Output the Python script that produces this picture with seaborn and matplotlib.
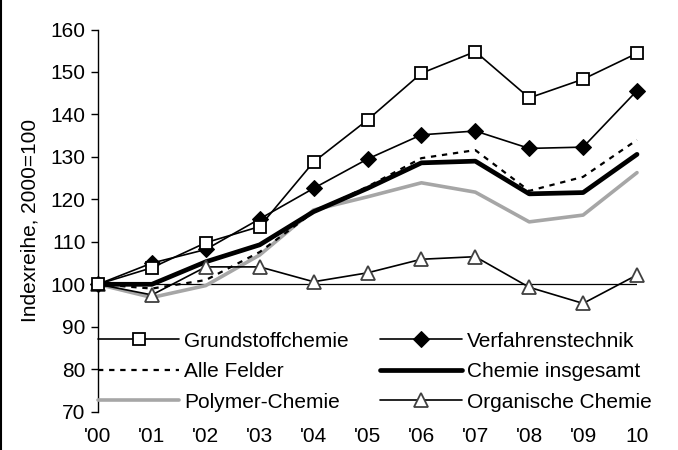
import matplotlib
matplotlib.use("Agg")
import matplotlib.pyplot as plt
import seaborn as sns
import pandas as pd
from matplotlib.lines import Line2D

years = list(range(11))
year_labels = ["'00", "'01", "'02", "'03", "'04", "'05", "'06", "'07", "'08", "'09", "10"]

grundstoff = [100, 103.9, 109.8, 113.6, 128.8, 138.7, 149.7, 154.8, 143.9, 148.3, 154.4]
verfahren = [100, 105.0, 108.2, 115.4, 122.6, 129.5, 135.2, 136.1, 132.0, 132.3, 145.6]
alle_felder = [100, 99.0, 101.0, 107.6, 117.0, 123.0, 129.7, 131.6, 122.0, 125.3, 134.0]
chemie_ges = [100, 100.0, 105.3, 109.3, 117.1, 122.6, 128.6, 129.0, 121.3, 121.6, 130.6]
polymer = [100, 96.9, 99.7, 106.9, 117.5, 120.6, 123.9, 121.7, 114.7, 116.3, 126.3]
organisch = [100, 97.5, 104.1, 104.1, 100.6, 102.7, 105.9, 106.5, 99.3, 95.5, 102.2]

y_ticks = [70, 80, 90, 100, 110, 120, 130, 140, 150, 160]

sns.set_theme(style="white")
plt.rcParams["font.family"] = ["Liberation Sans", "DejaVu Sans"]
plt.rcParams["text.color"] = "black"

fig = plt.figure(figsize=(6.78, 4.5), dpi=100)
ax = fig.add_axes([98 / 678, 1 - 411.7 / 450, (637 - 98) / 678, (411.7 - 29.5) / 450])

# reference line at 100
ax.axhline(100, color="black", linewidth=0.9, zorder=1)

common = dict(ax=ax, legend=False, clip_on=False)

h_poly = sns.lineplot(x=years, y=polymer, color="#a6a6a6", linewidth=2.6, zorder=2, **common).lines[-1]
h_chem = sns.lineplot(x=years, y=chemie_ges, color="black", linewidth=3.4, zorder=3, **common).lines[-1]
h_alle = sns.lineplot(x=years, y=alle_felder, color="black", linewidth=1.6, zorder=4, **common).lines[-1]
h_alle.set_dashes([2.4, 2.6])
h_org = sns.lineplot(x=years, y=organisch, color="black", linewidth=1.2, marker="^", markersize=10,
                     markerfacecolor="white", markeredgecolor="#404040", markeredgewidth=1.3,
                     zorder=5, **common).lines[-1]
h_verf = sns.lineplot(x=years, y=verfahren, color="black", linewidth=1.2, marker="D", markersize=8,
                      markerfacecolor="black", markeredgecolor="black", zorder=6, **common).lines[-1]
h_grund = sns.lineplot(x=years, y=grundstoff, color="black", linewidth=1.2, marker="s", markersize=8,
                       markerfacecolor="white", markeredgecolor="black", markeredgewidth=1.3,
                       zorder=7, **common).lines[-1]

ax.set_xlim(0, 10)
ax.set_ylim(70, 160)
ax.set_yticks(y_ticks)
ax.set_yticklabels([str(t) for t in y_ticks], fontsize=15)
ax.set_xticks(years)
ax.set_xticklabels(year_labels, fontsize=15)
ax.tick_params(axis="y", which="both", left=True, length=5, width=1, color="black", pad=4, labelcolor="black")
ax.tick_params(axis="x", which="both", bottom=False, length=0, pad=11, labelcolor="black")
ax.set_ylabel("Indexreihe, 2000=100", fontsize=15, color="black", labelpad=8)

for side in ["top", "right", "bottom"]:
    ax.spines[side].set_visible(False)
ax.spines["left"].set_color("black")
ax.spines["left"].set_linewidth(1.0)

handles = [h_grund, h_alle, h_poly, h_verf, h_chem, h_org]
labels = ["Grundstoffchemie", "Alle Felder", "Polymer-Chemie",
          "Verfahrenstechnik", "Chemie insgesamt", "Organische Chemie"]
leg = ax.legend(handles, labels, ncol=2, loc="lower left", bbox_to_anchor=(0, 0.0),
                frameon=False, fontsize=15, handlelength=3.9, handletextpad=0.25,
                columnspacing=1.5, labelspacing=0.55, borderpad=0, borderaxespad=0)

# left border of the figure
fig.add_artist(Line2D([0.0015, 0.0015], [0, 1], color="black", linewidth=1.5, transform=fig.transFigure))

fig.savefig("out.png", dpi=100)
